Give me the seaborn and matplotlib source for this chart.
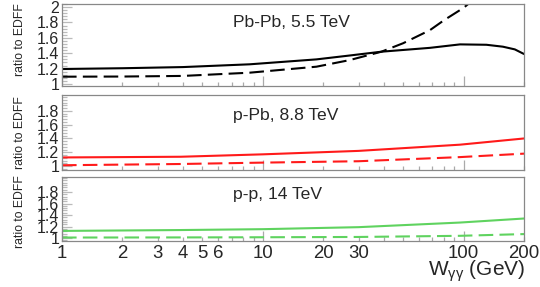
import numpy as np
import pandas as pd
import matplotlib
matplotlib.use("Agg")
import matplotlib.pyplot as plt
import seaborn as sns
from matplotlib.ticker import FixedLocator, NullFormatter, FuncFormatter, MultipleLocator

sns.set_style("white")
plt.rcParams['font.family'] = ['Liberation Sans', 'DejaVu Sans']
plt.rcParams['mathtext.fontset'] = 'custom'
plt.rcParams['mathtext.rm'] = 'Liberation Sans'
plt.rcParams['mathtext.it'] = 'Liberation Sans:italic'

# ---------------- data ----------------
w_pbpb_solid = [1, 2, 4, 8.6, 18.5, 27, 39, 68, 96, 130, 157, 180, 200]
pbpb_solid = [1.195, 1.205, 1.22, 1.256, 1.32, 1.37, 1.42, 1.47, 1.515, 1.51, 1.485, 1.45, 1.39]
w_pbpb_dash = [1, 2, 4, 8.6, 18.5, 27, 39, 50, 68, 80, 100, 110]
pbpb_dash = [1.095, 1.097, 1.105, 1.147, 1.225, 1.31, 1.42, 1.53, 1.70, 1.83, 1.99, 2.08]

w_ppb = [1, 3.9, 10, 30, 96, 200]
ppb_solid = [1.125, 1.135, 1.17, 1.22, 1.31, 1.40]
ppb_dash = [1.012, 1.03, 1.05, 1.07, 1.13, 1.18]

w_pp = [1, 3.9, 10, 30, 96, 200]
pp_solid = [1.125, 1.14, 1.155, 1.19, 1.27, 1.34]
pp_dash = [1.01, 1.012, 1.015, 1.02, 1.04, 1.07]

panel_titles = ["Pb-Pb, 5.5 TeV", "p-Pb, 8.8 TeV", "p-p, 14 TeV"]
ylabel = "ratio to EDFF"
xlabel = r"W$_{\mathregular{γγ}}$ (GeV)"
x_tick_labels = {1: "1", 2: "2", 3: "3", 4: "4", 5: "5", 6: "6",
                 10: "10", 20: "20", 30: "30", 100: "100", 200: "200"}
y_tick_vals = [1.0, 1.2, 1.4, 1.6, 1.8, 2.0]
y_tick_vals_low = [1.0, 1.2, 1.4, 1.6, 1.8]

colors = ["black", "#ff1a1a", "#5fd35f"]

# ---------------- figure ----------------
W, H = 540, 287
fig = plt.figure(figsize=(W / 100, H / 100), dpi=100)

def ax_rect(top_px, bot_px, left_px=62, right_px=524):
    return [left_px / W, 1 - bot_px / H, (right_px - left_px) / W, (bot_px - top_px) / H]

ax1 = fig.add_axes(ax_rect(4, 86))
ax2 = fig.add_axes(ax_rect(95, 170))
ax3 = fig.add_axes(ax_rect(177, 241))
axes = [ax1, ax2, ax3]
ylims = [(0.974, 2.04), (0.943, 2.03), (0.95, 2.06)]

series = [
    (w_pbpb_solid, pbpb_solid, w_pbpb_dash, pbpb_dash),
    (w_ppb, ppb_solid, w_ppb, ppb_dash),
    (w_pp, pp_solid, w_pp, pp_dash),
]

minor_x = [2, 3, 4, 5, 6, 7, 8, 9, 20, 30, 40, 50, 60, 70, 80, 90, 200]

for i, (ax, (xs, ys, xd, yd), col) in enumerate(zip(axes, series, colors)):
    sns.lineplot(x=xs, y=ys, ax=ax, color=col, linewidth=1.5, sort=True, estimator=None)
    sns.lineplot(x=xd, y=yd, ax=ax, color=col, linewidth=1.5, sort=True, estimator=None)
    ax.lines[-1].set_dashes((7, 3))
    ax.set_xscale("log")
    ax.set_xlim(1, 200)
    ax.set_ylim(*ylims[i])
    for s in ax.spines.values():
        s.set_color("#888888")
        s.set_linewidth(0.9)
    ax.xaxis.set_major_locator(FixedLocator([1, 10, 100]))
    ax.xaxis.set_minor_locator(FixedLocator(minor_x))
    ax.yaxis.set_major_locator(FixedLocator(y_tick_vals if i == 0 else y_tick_vals_low))
    ax.yaxis.set_minor_locator(MultipleLocator(0.04))
    ax.tick_params(axis="x", which="major", direction="in", length=7, width=0.9,
                   color="#aaaaaa", top=False, bottom=True)
    ax.tick_params(axis="x", which="minor", direction="in", length=3.2, width=0.9,
                   color="#aaaaaa", top=False, bottom=True)
    ax.tick_params(axis="y", which="major", direction="in", length=7.2, width=0.9,
                   color="#bbbbbb", right=False, left=True, labelsize=11.5, pad=2)
    ax.tick_params(axis="y", which="minor", direction="in", length=3.6, width=0.9,
                   color="#bbbbbb", right=False, left=True)
    ax.yaxis.set_major_formatter(FuncFormatter(lambda v, p: ("%g" % round(v, 2))))
    if i < 2:
        ax.xaxis.set_major_formatter(NullFormatter())
        ax.xaxis.set_minor_formatter(NullFormatter())
    else:
        fmt = FuncFormatter(lambda v, p: x_tick_labels.get(int(round(v)), ""))
        ax.xaxis.set_major_formatter(fmt)
        ax.xaxis.set_minor_formatter(fmt)
        ax.tick_params(axis="x", which="both", labelsize=13.4, pad=3)
    ax.set_xlabel("")
    ax.set_ylabel("")

title_y = [0.78, 0.733, 0.72]
for ax, t, ty in zip(axes, panel_titles, title_y):
    ax.text(0.37, ty, t, transform=ax.transAxes, ha="left", va="center", fontsize=12.6)

# y-axis titles (one per panel, aligned to top of each panel)
for top_px in [3, 96, 175]:
    fig.text(20 / W, 1 - top_px / H, ylabel, rotation=90, ha="center", va="top", fontsize=8.8)

fig.text(525 / W, 1 - 276 / H, xlabel, ha="right", va="baseline", fontsize=15)

fig.savefig("out.png", dpi=100)
